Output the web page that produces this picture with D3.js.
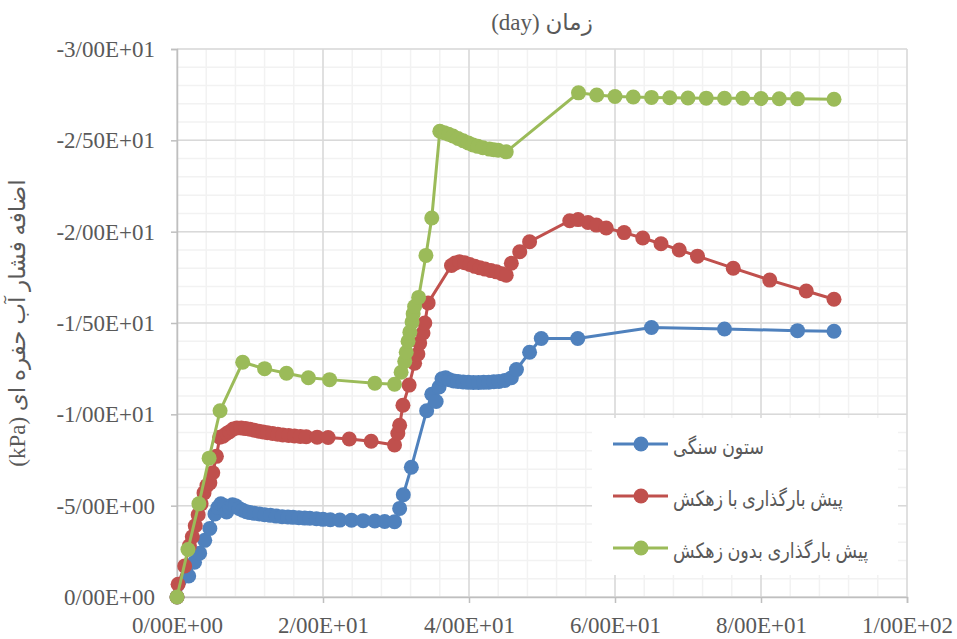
<!DOCTYPE html>
<html>
<head>
<meta charset="utf-8">
<script src="https://cdn.jsdelivr.net/npm/d3@7"></script>
<style>
  body { margin: 0; background: #fff; }
  svg text { font-family: "Liberation Serif", "DejaVu Sans", serif; fill: #595959; }
</style>
</head>
<body>
<svg id="chart" width="957" height="639"></svg>
<script>
// series names (legend)
var seriesNames = ["ستون سنگی", "پیش بارگذاری با زهکش", "پیش بارگذاری بدون زهکش"];
var seriesColors = ["#4F81BD", "#C0504D", "#9BBB59"];

// [day, excess pore pressure kPa]
var stoneColumn = [
  [0,0],[1.6,-1.15],[2.4,-1.9],[3.1,-2.4],[3.8,-3.1],[4.5,-3.75],[5.2,-4.55],[5.6,-4.9],
  [6.0,-5.1],[6.5,-5.0],[6.8,-4.65],[7.2,-4.9],[7.6,-5.05],[8.0,-5.0],[8.5,-4.85],[9.0,-4.75],
  [9.5,-4.67],[10.0,-4.62],[10.6,-4.58],[11.3,-4.54],[12.0,-4.5],[12.8,-4.47],[13.6,-4.43],
  [14.4,-4.4],[15.2,-4.38],[15.9,-4.36],[16.7,-4.34],[17.5,-4.32],[18.2,-4.31],[19.1,-4.28],
  [20.0,-4.25],[21.0,-4.23],[22.3,-4.21],[23.9,-4.2],[25.5,-4.18],[27.1,-4.16],[28.45,-4.13],
  [29.8,-4.12],[30.5,-4.85],[31.0,-5.6],[32.1,-7.1],[34.2,-10.2],[34.9,-11.1],[35.5,-10.7],
  [35.9,-11.5],[36.3,-11.95],[36.8,-12.0],[37.3,-11.9],[37.9,-11.83],[38.5,-11.8],[39.2,-11.77],
  [39.9,-11.75],[40.6,-11.74],[41.3,-11.74],[42.0,-11.75],[42.7,-11.76],[43.4,-11.78],
  [44.1,-11.8],[44.9,-11.85],[45.8,-12.0],[46.5,-12.45],[48.3,-13.4],[49.9,-14.15],
  [54.9,-14.15],[65,-14.75],[75,-14.67],[85,-14.58],[90,-14.55]
];

var preloadDrained = [
  [0,0],[0.15,-0.7],[1.05,-1.7],[1.7,-2.8],[2.1,-3.3],[2.5,-3.9],[2.9,-4.5],[3.3,-5.1],
  [3.7,-5.7],[4.1,-6.1],[4.5,-6.25],[4.9,-6.8],[5.4,-7.7],[5.85,-8.75],[6.3,-8.8],[6.8,-8.95],
  [7.2,-9.05],[7.7,-9.2],[8.2,-9.25],[8.8,-9.25],[9.4,-9.22],[10.0,-9.18],[10.6,-9.13],
  [11.2,-9.08],[11.8,-9.03],[12.4,-8.99],[13.1,-8.95],[13.8,-8.91],[14.5,-8.87],[15.3,-8.84],
  [16.1,-8.81],[16.9,-8.79],[17.7,-8.77],[19.2,-8.75],[20.7,-8.73],[23.6,-8.65],[26.6,-8.53],
  [29.8,-8.32],[30.25,-8.95],[30.5,-9.4],[30.95,-10.5],[31.8,-11.6],[32.55,-12.8],[33.0,-13.3],
  [33.25,-13.9],[33.7,-14.45],[33.95,-15.0],[34.4,-16.1],[37.6,-18.15],[38.1,-18.28],
  [38.7,-18.35],[39.4,-18.3],[40.1,-18.2],[40.8,-18.1],[41.5,-18.02],[42.2,-17.95],[43.0,-17.87],
  [43.75,-17.8],[44.5,-17.7],[45.1,-17.62],[45.8,-18.27],[46.95,-18.9],[48.3,-19.45],
  [53.8,-20.6],[54.95,-20.66],[56.3,-20.5],[57.45,-20.36],[58.8,-20.2],[61.25,-19.95],
  [63.8,-19.65],[66.3,-19.34],[68.8,-19.0],[71.3,-18.66],[76.2,-18.0],[81.2,-17.35],
  [86.2,-16.75],[90.0,-16.3]
];

var preloadUndrained = [
  [0,0],[1.5,-2.6],[3.0,-5.1],[4.4,-7.6],[5.9,-10.2],[9.0,-12.85],[12.0,-12.5],[15.0,-12.25],
  [18.0,-12.0],[20.9,-11.9],[27.1,-11.7],[29.8,-11.65],[30.7,-12.3],[31.2,-12.9],[31.4,-13.4],
  [31.65,-14.0],[31.9,-14.5],[32.2,-15.05],[32.35,-15.5],[32.55,-15.9],[33.1,-16.4],
  [34.1,-18.7],[34.9,-20.75],[36.0,-25.5],[36.6,-25.42],[37.2,-25.33],[37.8,-25.24],
  [38.5,-25.1],[39.2,-24.98],[39.9,-24.86],[40.55,-24.75],[41.2,-24.67],[41.9,-24.6],
  [42.8,-24.52],[43.4,-24.49],[44.0,-24.46],[45.1,-24.37],[55,-27.6],[57.5,-27.48],
  [60,-27.4],[62.5,-27.37],[65,-27.35],[67.5,-27.33],[70,-27.32],[72.5,-27.31],[75,-27.3],
  [77.5,-27.3],[80,-27.29],[82.5,-27.28],[85,-27.27],[90,-27.25]
];

var xTicks = [0, 20, 40, 60, 80, 100];
var yTicks = [0, -5, -10, -15, -20, -25, -30];
var xMinor = d3.range(0, 101, 4);
var yMinor = d3.range(0, -31, -1);

var titleText = "(day) زمان";
var yLabelText = "(kPa) اضافه فشار آب حفره ای";

var margin = {top: 49, right: 50, bottom: 42, left: 177};
var width = 957, height = 639;
var svg = d3.select("#chart");

var x = d3.scaleLinear().domain([0, 100]).range([margin.left, width - margin.right]);
var y = d3.scaleLinear().domain([0, -30]).range([height - margin.bottom, margin.top]);

// excel style: -3/00E+01
function sci(v) {
  var parts = v.toExponential(2).split("e");
  var e = parts[1];
  return parts[0].replace(".", "/") + "E" + e[0] + e.slice(1).padStart(2, "0");
}

var grid = svg.append("g");
grid.selectAll("line.xm").data(xMinor).enter().append("line")
  .attr("x1", d => x(d)).attr("x2", d => x(d))
  .attr("y1", y(0)).attr("y2", y(-30))
  .attr("stroke", "#f2f2f2").attr("stroke-width", 1.5);
grid.selectAll("line.ym").data(yMinor).enter().append("line")
  .attr("y1", d => y(d)).attr("y2", d => y(d))
  .attr("x1", x(0)).attr("x2", x(100))
  .attr("stroke", "#f2f2f2").attr("stroke-width", 1.5);
grid.selectAll("line.xM").data(xTicks).enter().append("line")
  .attr("x1", d => x(d)).attr("x2", d => x(d))
  .attr("y1", y(0)).attr("y2", y(-30))
  .attr("stroke", "#d9d9d9").attr("stroke-width", 1.5);
grid.selectAll("line.yM").data(yTicks).enter().append("line")
  .attr("y1", d => y(d)).attr("y2", d => y(d))
  .attr("x1", x(0)).attr("x2", x(100))
  .attr("stroke", "#d9d9d9").attr("stroke-width", 1.5);

var yAxis = svg.append("g")
  .attr("transform", "translate(" + x(0) + ",0)")
  .call(d3.axisLeft(y).tickValues(yTicks).tickSize(6).tickPadding(16).tickFormat(sci));
var xAxis = svg.append("g")
  .attr("transform", "translate(0," + y(0) + ")")
  .call(d3.axisBottom(x).tickValues(xTicks).tickSize(6).tickPadding(14).tickFormat(sci));
[xAxis, yAxis].forEach(function(a) {
  a.selectAll("path.domain").attr("stroke", "#bfbfbf").attr("stroke-width", 1.5);
  a.selectAll(".tick line").attr("stroke", "#bfbfbf").attr("stroke-width", 1.5);
  a.selectAll("text").style("font-size", "23px").attr("fill", "#595959");
});

var line = d3.line().x(d => x(d[0])).y(d => y(d[1]));
var allSeries = [stoneColumn, preloadDrained, preloadUndrained];

allSeries.forEach(function(data, i) {
  var g = svg.append("g");
  g.append("path").datum(data)
    .attr("d", line).attr("fill", "none")
    .attr("stroke", seriesColors[i]).attr("stroke-width", 3);
  g.selectAll("circle").data(data).enter().append("circle")
    .attr("cx", d => x(d[0])).attr("cy", d => y(d[1]))
    .attr("r", 7.5).attr("fill", seriesColors[i]);
});

// legend
var legend = svg.append("g");
legend.append("rect")
  .attr("x", 592).attr("y", 418).attr("width", 306).attr("height", 157)
  .attr("fill", "#fff");
seriesNames.forEach(function(name, i) {
  var ly = 444 + i * 52;
  legend.append("line")
    .attr("x1", 613).attr("x2", 668).attr("y1", ly).attr("y2", ly)
    .attr("stroke", seriesColors[i]).attr("stroke-width", 3);
  legend.append("circle").attr("cx", 641).attr("cy", ly).attr("r", 7.5).attr("fill", seriesColors[i]);
  legend.append("text")
    .attr("transform", "translate(673," + (ly + 10) + ") scale(0.84,1)")
    .style("font-size", "21px").text(name);
});

svg.append("text")
  .attr("x", (x(0) + x(100)) / 2).attr("y", 30)
  .attr("text-anchor", "middle").style("font-size", "23px")
  .text(titleText);

svg.append("text")
  .attr("transform", "translate(25," + ((y(0) + y(-30)) / 2) + ") rotate(-90)")
  .attr("text-anchor", "middle").style("font-size", "23px")
  .text(yLabelText);
</script>
</body>
</html>
